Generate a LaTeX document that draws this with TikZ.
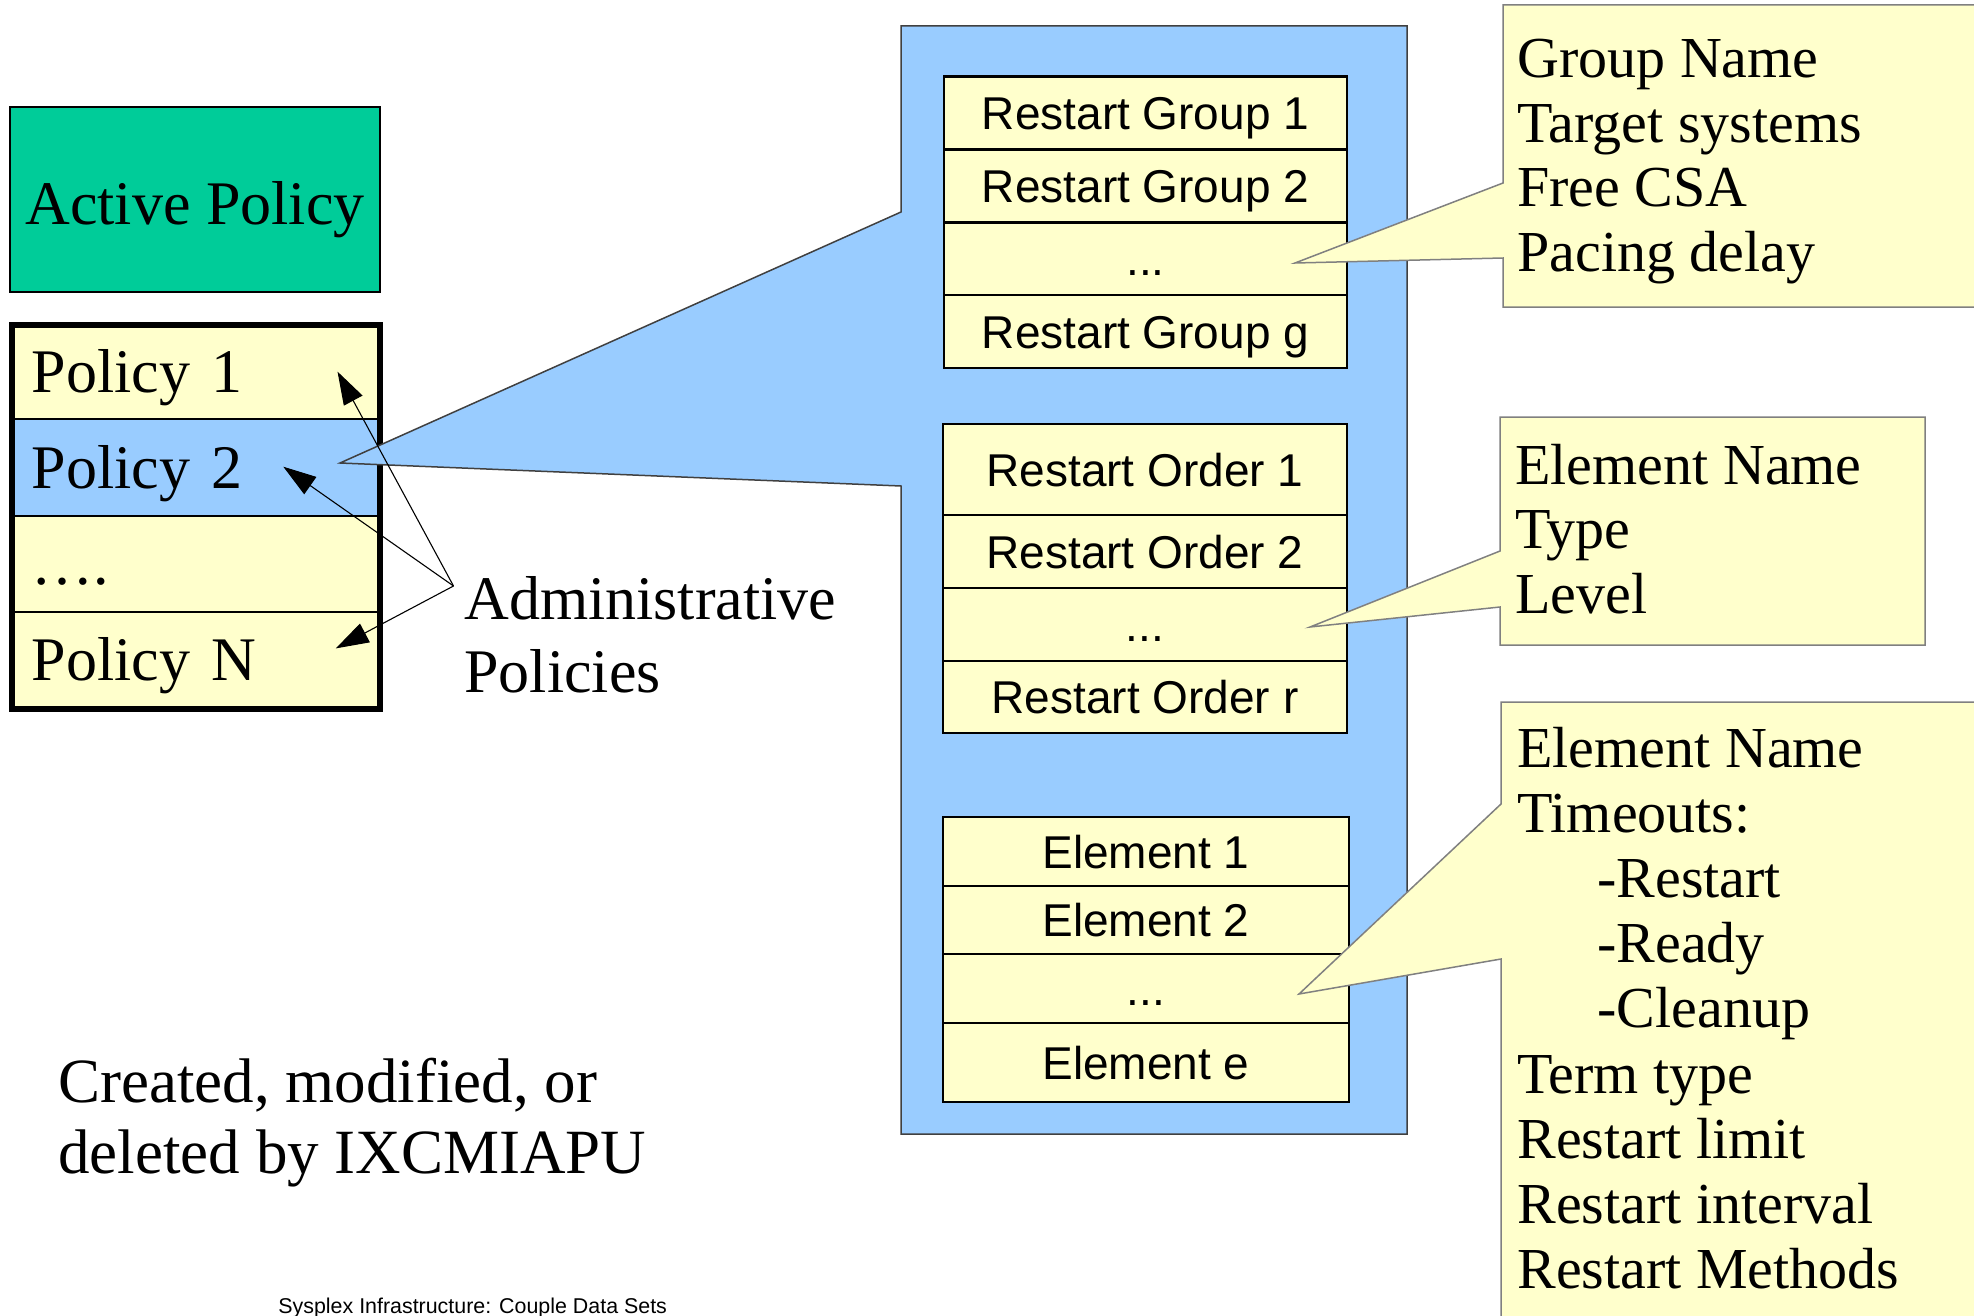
\documentclass[tikz,border=0pt]{standalone}
\usepackage{fontspec}
\setmainfont{Liberation Serif}
\setsansfont{Liberation Sans}
\usetikzlibrary{arrows.meta}
\definecolor{yel}{HTML}{FFFFCC}
\definecolor{lblue}{HTML}{99CCFF}
\definecolor{tealbox}{HTML}{00CC99}
\definecolor{edgegray}{HTML}{808080}
\begin{document}
\begin{tikzpicture}[x=0.5pt,y=-0.5pt,
  big/.style={font=\fontsize{31}{37}\selectfont},
  txt/.style={anchor=base west, inner sep=0pt},
  call/.style={font=\fontsize{29}{33}\selectfont, anchor=base west, inner sep=0pt},
  srow/.style={draw=black, line width=1.25pt, fill=yel, inner sep=0pt, font=\sffamily\fontsize{23}{27}\selectfont, text height=16.5pt, text depth=0pt},
  prow/.style={draw=black, line width=1.25pt, inner xsep=10pt, inner ysep=0pt, text width=164pt, align=left, font=\fontsize{31}{37}\selectfont, text height=20.5pt, text depth=0pt},
  callout/.style={draw=edgegray, line width=0.75pt, fill=yel},
  tipline/.style={-{Triangle[length=16.5pt,width=10.5pt]}, line width=0.55pt},
]
\clip (0,0) rectangle (1974,1316);
\fill[white] (0,0) rectangle (1974,1316);

% Active policy
\node[draw=black, line width=1pt, fill=tealbox, minimum width=185pt, minimum height=92.5pt, inner sep=0pt, big, text height=25pt, text depth=0pt] (active) at (195,199.5) {Active Policy};

% Policy stack
\node[prow, fill=yel, minimum height=47.2pt] (p1) at (196,371.8) {Policy 1};
\node[prow, fill=lblue, minimum height=48.5pt] (p2) at (196,467.5) {Policy 2};
\node[prow, fill=yel, minimum height=48pt] (p3) at (196,564) {….};
\node[prow, fill=yel, minimum height=48.25pt] (pN) at (196,660.25) {Policy N};
\draw[line width=3pt] (12,324.6) rectangle (380,708.5);

% Blue panel with wedge
\draw[draw=black!75, line width=0.75pt, fill=lblue] (901,26) -- (1407,26) -- (1407,1134) -- (901,1134) -- (901,486) -- (340,463) -- (901,212) -- cycle;

% Restart groups
\node[srow, minimum width=201.5pt, minimum height=36.5pt] (g1) at (1145.5,113) {Restart Group 1};
\node[srow, minimum width=201.5pt, minimum height=36.5pt] (g2) at (1145.5,186) {Restart Group 2};
\node[srow, minimum width=201.5pt, minimum height=36.5pt] (g3) at (1145.5,259) {...};
\node[srow, minimum width=201.5pt, minimum height=36.5pt] (g4) at (1145.5,331.5) {Restart Group g};

% Restart orders
\node[srow, minimum width=202pt, minimum height=45.5pt] (o1) at (1145,469.5) {Restart Order 1};
\node[srow, minimum width=202pt, minimum height=36.5pt] (o2) at (1145,551.5) {Restart Order 2};
\node[srow, minimum width=202pt, minimum height=36.5pt] (o3) at (1145,624.5) {...};
\node[srow, minimum width=202pt, minimum height=36pt] (o4) at (1145,697) {Restart Order r};

% Elements
\node[srow, minimum width=203pt, minimum height=34.5pt] (e1) at (1146,851.5) {Element 1};
\node[srow, minimum width=203pt, minimum height=34pt] (e2) at (1146,920) {Element 2};
\node[srow, minimum width=203pt, minimum height=34.5pt] (e3) at (1146,988.5) {...};
\node[srow, minimum width=203pt, minimum height=39.5pt] (e4) at (1146,1062.5) {Element e};

% Callout 1
\draw[callout] (1503,5) -- (1990,5) -- (1990,307) -- (1503,307) -- (1503,258) -- (1295,263) -- (1503,183) -- cycle;
\node[call] (c1a) at (1517,78) {Group Name};
\node[call] (c1b) at (1517,142.5) {Target systems};
\node[call] (c1c) at (1517,207) {Free CSA};
\node[call] (c1d) at (1517,271.5) {Pacing delay};

% Callout 2
\draw[callout] (1500,417) -- (1925,417) -- (1925,645) -- (1500,645) -- (1500,607) -- (1310,627) -- (1500,551) -- cycle;
\node[call] (c2a) at (1515,484) {Element Name};
\node[call] (c2b) at (1515,548.5) {Type};
\node[call] (c2c) at (1515,613) {Level};

% Callout 3
\draw[callout] (1501,702) -- (1990,702) -- (1990,1330) -- (1501,1330) -- (1501,959) -- (1299,994) -- (1501,804) -- cycle;
\node[call] (c3a) at (1517,767) {Element Name};
\node[call] (c3b) at (1517,832.2) {Timeouts:};
\node[call] (c3c) at (1597,897.4) {-Restart};
\node[call] (c3d) at (1597,962.6) {-Ready};
\node[call] (c3e) at (1597,1027.8) {-Cleanup};
\node[call] (c3f) at (1517,1093) {Term type};
\node[call] (c3g) at (1517,1158.2) {Restart limit};
\node[call] (c3h) at (1517,1223.4) {Restart interval};
\node[call] (c3i) at (1517,1288.6) {Restart Methods};

% Administrative policies label and arrows
\node[txt, big] (adm1) at (464,619) {Administrative};
\node[txt, big] (adm2) at (464,692) {Policies};
\coordinate (orig) at (453.5,586);
\coordinate (t1) at (337.5,371.6);
\coordinate (t2) at (283.3,466.7);
\coordinate (tN) at (335.8,648.4);
\draw[tipline] (orig) -- (t1);
\draw[tipline] (orig) -- (t2);
\draw[tipline] (orig) -- (tN);

% Bottom texts
\node[txt, font=\fontsize{31.5}{37}\selectfont] (cr1) at (58,1102) {Created, modified, or};
\node[txt, font=\fontsize{31.5}{37}\selectfont] (cr2) at (58,1173) {deleted by IXCMIAPU};
\node[txt, font=\sffamily\fontsize{10.7}{12}\selectfont] (foot) at (278,1313) {Sysplex Infrastructure: Couple Data Sets};
\end{tikzpicture}
\end{document}
